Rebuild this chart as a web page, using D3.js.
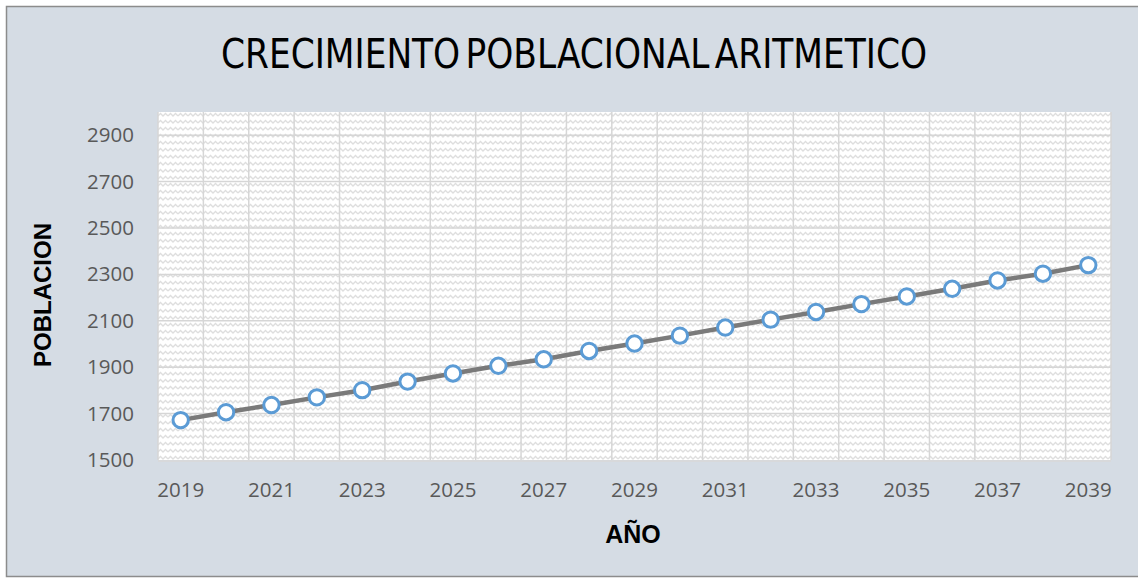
<!DOCTYPE html>
<html>
<head>
<meta charset="utf-8">
<script src="https://d3js.org/d3.v7.min.js"></script>
<style>
  body { margin: 0; background: #ffffff; }
  #chart { width: 1138px; height: 583px; }
</style>
</head>
<body>
<div id="chart"></div>
<script>
// Script for the arithmetic population growth line chart

// ==========================================================
// Data
var years = [2019, 2020, 2021, 2022, 2023, 2024, 2025, 2026, 2027, 2028,
             2029, 2030, 2031, 2032, 2033, 2034, 2035, 2036, 2037, 2038, 2039];
var poblacion = [1672, 1706, 1737, 1770, 1801, 1838, 1873, 1906, 1934, 1970,
                 2002, 2036, 2071, 2105, 2138, 2172, 2205, 2238, 2274, 2303, 2340];
var yTicks = [1500, 1700, 1900, 2100, 2300, 2500, 2700, 2900];
var xTickLabels = [2019, 2021, 2023, 2025, 2027, 2029, 2031, 2033, 2035, 2037, 2039];

var titleText = "CRECIMIENTO POBLACIONAL ARITMETICO";
var xTitle = "AÑO";
var yTitle = "POBLACION";

// ==========================================================
// Set margins
var svgWidth = 1138;
var svgHeight = 583;

var margin = {
    top: 112,
    right: 27,
    bottom: 123,
    left: 158
};

var width = svgWidth - margin.left - margin.right;
var height = svgHeight - margin.top - margin.bottom;

// ===========================================================
// SVG wrapper
var svg = d3
  .select("#chart")
  .append("svg")
  .attr("width", svgWidth)
  .attr("height", svgHeight);

// background + outer border
svg.append("rect")
    .attr("x", 6.5)
    .attr("y", 6.5)
    .attr("width", 1140)
    .attr("height", 570)
    .attr("fill", "#d5dce4")
    .attr("stroke", "#8c8c8c")
    .attr("stroke-width", 1.5);

// zigzag texture for the plot area
var defs = svg.append("defs");
var pattern = defs.append("pattern")
    .attr("id", "zigzag")
    .attr("patternUnits", "userSpaceOnUse")
    .attr("width", 10)
    .attr("height", 7);
pattern.append("rect")
    .attr("width", 10)
    .attr("height", 7)
    .attr("fill", "#ffffff");
pattern.append("path")
    .attr("d", "M0,4 L2.5,1.5 L5,4 L7.5,1.5 L10,4")
    .attr("fill", "none")
    .attr("stroke", "#dedede")
    .attr("stroke-width", 1.3);

// Appending svg group
var chartGroup = svg.append("g")
    .attr("transform", `translate(${margin.left}, ${margin.top})`);

chartGroup.append("rect")
    .attr("width", width)
    .attr("height", height)
    .attr("fill", "url(#zigzag)");

// ===========================================================
// Scales
var xBandScale = d3.scaleBand()
    .domain(years)
    .range([0, width])
    .padding(0);

var yLinearScale = d3.scaleLinear()
    .domain([1500, 3000])
    .range([height, 0]);

// horizontal gridlines
chartGroup.append("g")
    .selectAll("line")
    .data(yTicks.slice(1))
    .enter()
    .append("line")
    .attr("x1", 0)
    .attr("x2", width)
    .attr("y1", d => yLinearScale(d))
    .attr("y2", d => yLinearScale(d))
    .attr("stroke", "#d6d6d6")
    .attr("stroke-width", 1.5);

// vertical gridlines between categories (plus the two edges)
var vEdges = years.map(d => xBandScale(d)).concat([width]);
chartGroup.append("g")
    .selectAll("line")
    .data(vEdges)
    .enter()
    .append("line")
    .attr("x1", d => d)
    .attr("x2", d => d)
    .attr("y1", 0)
    .attr("y2", height)
    .attr("stroke", "#d6d6d6")
    .attr("stroke-width", 1.5);

// bottom axis line
chartGroup.append("line")
    .attr("x1", 0)
    .attr("x2", width)
    .attr("y1", height + 1)
    .attr("y2", height + 1)
    .attr("stroke", "#d9d9d9")
    .attr("stroke-width", 1.5);

// ===========================================================
// Axes (labels only)
var bottomAxis = d3.axisBottom(xBandScale)
    .tickValues(xTickLabels)
    .tickSize(0)
    .tickPadding(22);

var leftAxis = d3.axisLeft(yLinearScale)
    .tickValues(yTicks)
    .tickFormat(d3.format("d"))
    .tickSize(0)
    .tickPadding(24);

var xAxis = chartGroup.append("g")
    .attr("transform", `translate(0, ${height})`)
    .call(bottomAxis);

var yAxis = chartGroup.append("g")
    .call(leftAxis);

[xAxis, yAxis].forEach(function(ax) {
    ax.select(".domain").remove();
    ax.selectAll("text")
        .attr("fill", "#595959")
        .style("font-family", "'Open Sans', sans-serif")
        .style("font-size", "20.5px");
});

// ===========================================================
// Line + markers
var line = d3.line()
    .x((d, i) => xBandScale(years[i]) + xBandScale.bandwidth() / 2)
    .y(d => yLinearScale(d));

chartGroup.append("path")
    .datum(poblacion)
    .attr("d", line)
    .attr("fill", "none")
    .attr("stroke", "#7a7a7a")
    .attr("stroke-width", 4.5);

chartGroup.selectAll("circle")
    .data(poblacion)
    .enter()
    .append("circle")
    .attr("cx", (d, i) => xBandScale(years[i]) + xBandScale.bandwidth() / 2)
    .attr("cy", d => yLinearScale(d))
    .attr("r", 7.7)
    .attr("fill", "#ffffff")
    .attr("stroke", "#5b9bd5")
    .attr("stroke-width", 3);

// ===========================================================
// Titles
svg.append("text")
    .attr("x", 574)
    .attr("y", 68)
    .attr("text-anchor", "middle")
    .attr("textLength", 706)
    .attr("lengthAdjust", "spacingAndGlyphs")
    .style("font-family", "'DejaVu Sans Condensed', 'Liberation Sans Narrow', sans-serif")
    .style("font-size", "41px")
    .style("word-spacing", "-6px")
    .attr("fill", "#000000")
    .text(titleText);

svg.append("text")
    .attr("x", 633)
    .attr("y", 543)
    .attr("text-anchor", "middle")
    .style("font-family", "'Liberation Sans', Arial, sans-serif")
    .style("font-weight", "bold")
    .style("font-size", "25px")
    .attr("fill", "#000000")
    .text(xTitle);

svg.append("text")
    .attr("transform", "translate(51, 295) rotate(-90)")
    .attr("text-anchor", "middle")
    .style("font-family", "'Liberation Sans', Arial, sans-serif")
    .style("font-weight", "bold")
    .style("font-size", "24px")
    .attr("fill", "#000000")
    .text(yTitle);
</script>
</body>
</html>
